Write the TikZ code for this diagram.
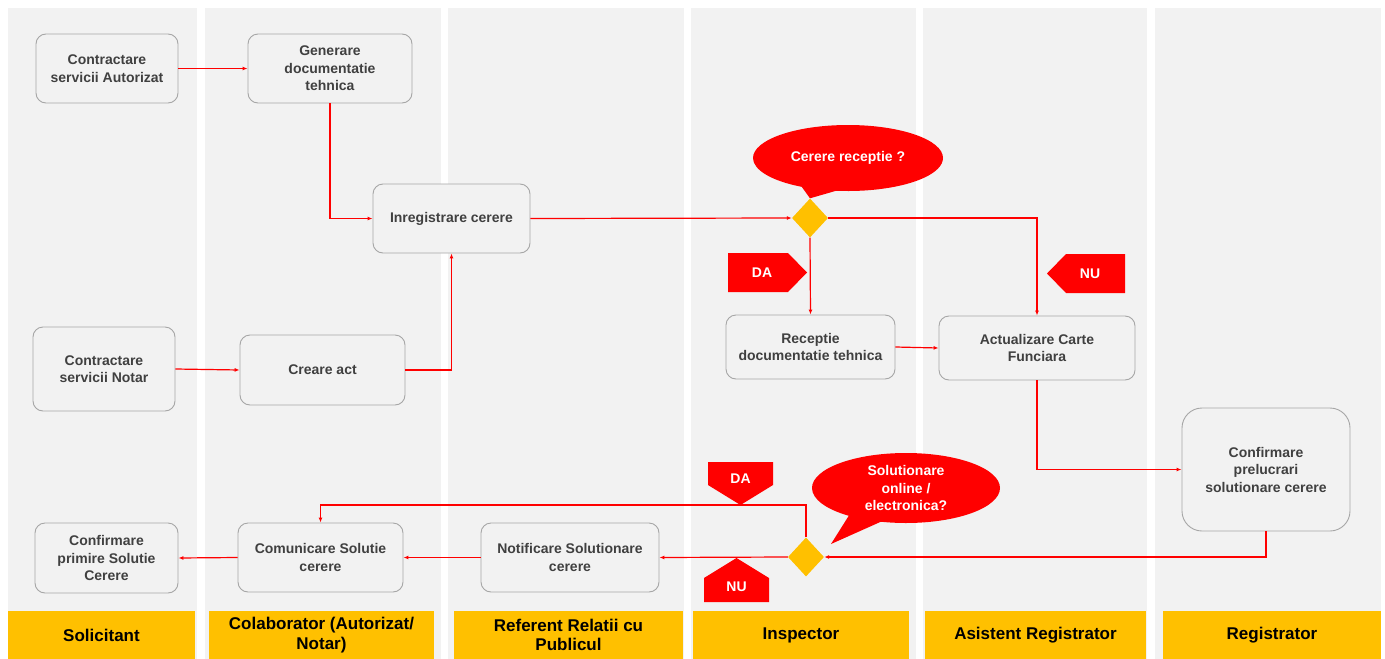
\documentclass[tikz,border=0pt]{standalone}
\usepackage{fontspec}
\setmainfont{Liberation Sans}
\usetikzlibrary{shapes.geometric,shapes.callouts,arrows.meta}
\definecolor{lanegray}{HTML}{F2F2F2}
\definecolor{boxline}{HTML}{A6A6A6}
\definecolor{txtgray}{HTML}{404040}
\definecolor{flowred}{HTML}{FF0000}
\definecolor{laneyellow}{HTML}{FFC000}
\begin{document}
\begin{tikzpicture}[x=1pt,y=-1pt,
  proc/.style={draw=boxline, line width=0.9pt, fill=lanegray, rounded corners=10pt, align=center,
    font=\fontsize{14}{17.5}\selectfont\bfseries, text=txtgray, inner sep=2pt},
  flow/.style={draw=flowred, line width=1.2pt, -{Latex[length=5pt,width=4pt]}},
  lanebg/.style={fill=lanegray},
  lanelabel/.style={fill=laneyellow, align=center, font=\fontsize{17}{19.5}\selectfont\bfseries, text=black, inner sep=0pt},
  decision/.style={diamond, fill=laneyellow, inner sep=0pt, minimum width=36pt, minimum height=39pt},
  bubble/.style={ellipse callout, fill=flowred, text=white, align=center, font=\fontsize{14}{17.5}\selectfont\bfseries, callout pointer arc=22, inner sep=0pt},
  tagshape/.style={fill=flowred},
  tagtext/.style={text=white, font=\fontsize{14}{16}\selectfont\bfseries, inner sep=0pt}
]
\useasboundingbox (0,0) rectangle (1385,659);
\fill[white] (0,0) rectangle (1385,659);
% lanes
\fill[lanebg] (8,8) rectangle (197,659);
\fill[lanebg] (205,8) rectangle (441,659);
\fill[lanebg] (448,8) rectangle (684,659);
\fill[lanebg] (691,8) rectangle (916,659);
\fill[lanebg] (923,8) rectangle (1147,659);
\fill[lanebg] (1155,8) rectangle (1381,659);
% lane labels
\node[lanelabel, minimum width=187pt, minimum height=48pt] (l1) at (101.5,635) {Solicitant};
\node[lanelabel, minimum width=225pt, minimum height=48pt] (l2) at (321.5,635) {Colaborator (Autorizat/\\Notar)};
\node[lanelabel, minimum width=229pt, minimum height=48pt] (l3) at (568.5,635) {Referent Relatii cu\\Publicul};
\node[lanelabel, minimum width=216pt, minimum height=48pt] (l4) at (801,635) {Inspector};
\node[lanelabel, minimum width=221pt, minimum height=48pt] (l5) at (1035.5,635) {Asistent Registrator};
\node[lanelabel, minimum width=218pt, minimum height=48pt] (l6) at (1272,635) {Registrator};
% process boxes
\node[proc, minimum width=142pt, minimum height=69pt] (cA) at (107,68.5) {Contractare\\servicii Autorizat};
\node[proc, minimum width=164pt, minimum height=69pt] (gen) at (330,68.5) {Generare\\documentatie\\tehnica};
\node[proc, minimum width=157pt, minimum height=69pt] (inreg) at (451.5,218.5) {Inregistrare cerere};
\node[proc, minimum width=142pt, minimum height=84pt] (cN) at (104,369) {Contractare\\servicii Notar};
\node[proc, minimum width=165pt, minimum height=70pt] (creare) at (322.5,370) {Creare act};
\node[proc, minimum width=169pt, minimum height=64pt] (recep) at (810.5,347) {Receptie\\documentatie tehnica};
\node[proc, minimum width=196pt, minimum height=64pt] (actual) at (1037,348) {Actualizare Carte\\Funciara};
\node[proc, minimum width=168pt, minimum height=123pt, rounded corners=20pt] (confP) at (1266,469.5) {Confirmare\\prelucrari\\solutionare cerere};
\node[proc, minimum width=178pt, minimum height=69pt] (notif) at (570,557.5) {Notificare Solutionare\\cerere};
\node[proc, minimum width=165pt, minimum height=69pt] (comun) at (320.5,557.5) {Comunicare Solutie\\cerere};
\node[proc, minimum width=143pt, minimum height=70pt] (confPrim) at (106.5,558) {Confirmare\\primire Solutie\\Cerere};
% decisions
\node[decision] (d1) at (810,218) {};
\node[decision] (d2) at (806,557) {};
% tags (pentagon arrows)
\fill[tagshape] (728,253) -- (788,253) -- (807,272.5) -- (788,292) -- (728,292) -- cycle;
\node[tagtext] (da1) at (762,272.5) {DA};
\fill[tagshape] (1125,254) -- (1066,254) -- (1047,273.5) -- (1066,293) -- (1125,293) -- cycle;
\node[tagtext] (nu1) at (1090,273.5) {NU};
\coordinate (da2tip) at (740.5,505);
\fill[tagshape] (708,462) -- (773,462) -- (773,485) -- (da2tip) -- (708,485) -- cycle;
\node[tagtext] (da2) at (740.5,479) {DA};
\fill[tagshape] (704,602) -- (769,602) -- (769,578) -- (736.5,558) -- (704,578) -- cycle;
\node[tagtext] (nu2) at (736.5,587) {NU};
% callouts
\coordinate (p2) at (831,544);
\node[bubble, minimum width=190pt, minimum height=66pt, callout absolute pointer=(d1.north)] (q1) at (848,158) {Cerere receptie ?};
\node[bubble, minimum width=188pt, minimum height=70pt, callout absolute pointer=(p2)] (q2) at (906,488) {Solutionare\\online /\\electronica?};
% connectors
\draw[flow] (cA.east) -- (gen.west);
\draw[flow] (gen.south) |- (inreg.west);
\draw[flow] (cN.east) -- (creare.west);
\draw[flow] (creare.east) -| (inreg.south);
\draw[flow] (inreg.east) -- (d1.west);
\draw[flow] (d1.east) -| (actual.north);
\draw[flow] (d1.south) -- (recep.north);
\draw[flow] (recep.east) -- (actual.west);
\draw[flow] (actual.south) |- (confP.west);
\draw[flow] (confP.south) |- (d2.east);
\draw[flow] (d2.west) -- (notif.east);
\draw[flow] (d2.north) -- (d2.north |- da2tip) -| (comun.north);
\draw[flow] (notif.west) -- (comun.east);
\draw[flow] (comun.west) -- (confPrim.east);
\end{tikzpicture}
\end{document}
